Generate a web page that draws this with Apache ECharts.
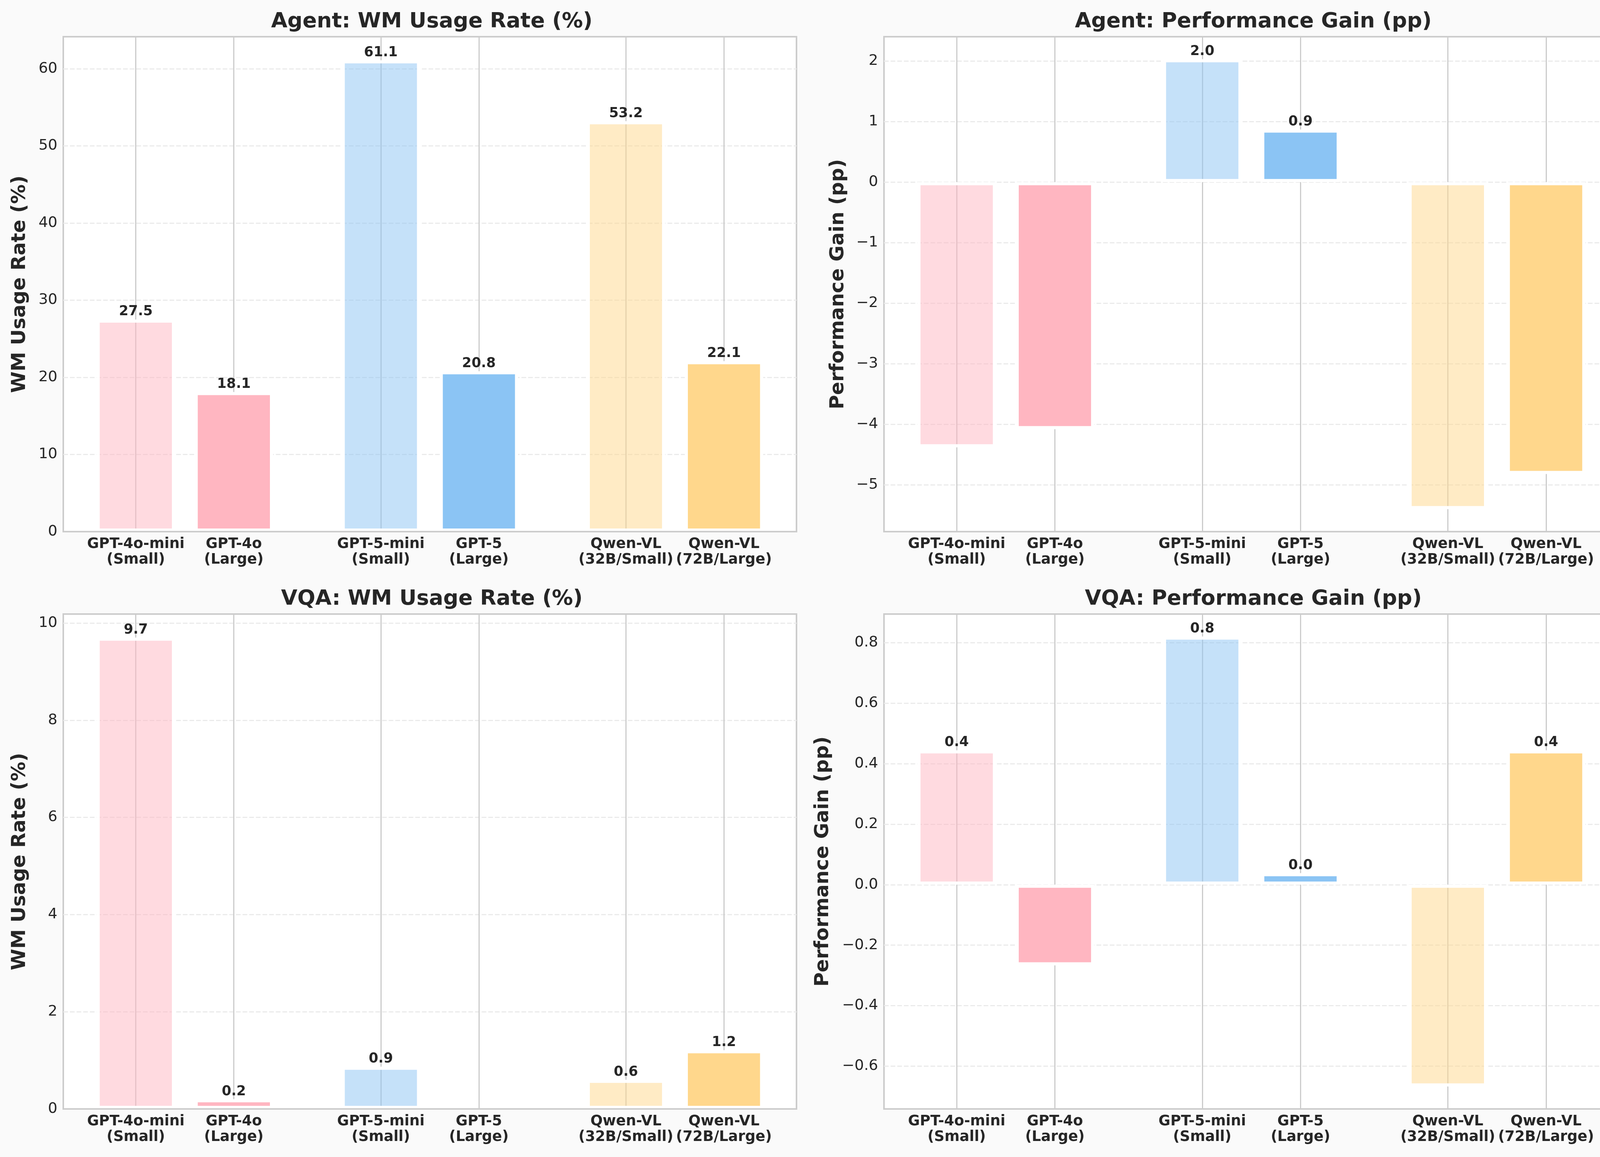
<!DOCTYPE html>
<html>
<head>
<meta charset="utf-8">
<script src="https://cdn.jsdelivr.net/npm/echarts@6/dist/echarts.min.js"></script>
<style>
html,body{margin:0;padding:0;background:#fafafa;overflow:hidden;}
#chart{width:4172px;height:2962px;}
</style>
</head>
<body>
<div id="chart"></div>
<script>
// ---------------- DATA ----------------
const models = ['GPT-4o-mini\n(Small)', 'GPT-4o\n(Large)', 'GPT-5-mini\n(Small)', 'GPT-5\n(Large)', 'Qwen-VL\n(32B/Small)', 'Qwen-VL\n(72B/Large)'];
const agentUsage = [27.5, 18.1, 61.1, 20.8, 53.2, 22.1];
const agentGain  = [-4.38, -4.08, 2.03, 0.87, -5.40, -4.82];
const vqaUsage   = [9.7, 0.2, 0.87, 0.0, 0.6, 1.21];
const vqaGain    = [0.444, -0.267, 0.82, 0.038, -0.667, 0.444];

const titles = ['Agent: WM Usage Rate (%)', 'Agent: Performance Gain (pp)', 'VQA: WM Usage Rate (%)', 'VQA: Performance Gain (pp)'];
const yNames = ['WM Usage Rate (%)', 'Performance Gain (pp)', 'WM Usage Rate (%)', 'Performance Gain (pp)'];

const agentUsageTicks = [0, 10, 20, 30, 40, 50, 60];
const agentGainTicks  = [-5, -4, -3, -2, -1, 0, 1, 2];
const vqaUsageTicks   = [0, 2, 4, 6, 8, 10];
const vqaGainTicks    = [-0.6, -0.4, -0.2, 0.0, 0.2, 0.4, 0.6, 0.8];

// ---------------- STYLE / LAYOUT ----------------
const FONT = 'DejaVu Sans';
const TEXT = '#262626';
const baseRGB = [[255,182,193], [255,182,193], [139,196,244], [139,196,244], [255,215,140], [255,215,140]];
const alphas  = [0.5, 1, 0.5, 1, 0.5, 1];
const GROUP_STEP = 2.5;
const BAR_W = 0.8;
const xPos = models.map((m, i) => Math.floor(i / 2) * GROUP_STEP + (i % 2));
const X_MIN = -0.74, X_MAX = 6.74;

const grids = [
  {left: 162,  top: 94,   width: 1877, height: 1267},
  {left: 2263, top: 94,   width: 1881, height: 1267},
  {left: 162,  top: 1572, width: 1877, height: 1267},
  {left: 2263, top: 1572, width: 1881, height: 1267}
];
const titleTops = [24, 24, 1502, 1502];
const nameGaps = [86, 92, 86, 131];
const tickDecimals = [0, 0, 0, 1];

const panels = [
  {vals: agentUsage, ticks: agentUsageTicks},
  {vals: agentGain,  ticks: agentGainTicks},
  {vals: vqaUsage,   ticks: vqaUsageTicks},
  {vals: vqaGain,    ticks: vqaGainTicks}
];

function limits(vals) {
  const lo = Math.min(0, ...vals), hi = Math.max(0, ...vals);
  const span = hi - lo, m = 0.05 * span;
  return [lo < 0 ? lo - m : 0, hi + m];
}
function fmtTick(v, d) {
  return Number(v).toFixed(d).replace('-', '\u2212');
}
function rgba(c, a) { return 'rgba(' + c[0] + ',' + c[1] + ',' + c[2] + ',' + a + ')'; }

const option = {
  backgroundColor: '#fafafa',
  animation: false,
  title: [], grid: [], xAxis: [], yAxis: [], series: []
};

panels.forEach((p, k) => {
  const g = grids[k];
  const [yMin, yMax] = limits(p.vals);
  option.grid.push({
    left: g.left, top: g.top, width: g.width, height: g.height,
    containLabel: false, outerBoundsMode: 'none',
    show: true, backgroundColor: '#ffffff', borderColor: '#cccccc', borderWidth: 4
  });
  option.title.push({
    text: titles[k], left: g.left + g.width / 2, top: titleTops[k], textAlign: 'center',
    textStyle: {fontFamily: FONT, fontSize: 54, fontWeight: 'bold', color: TEXT}
  });
  // main x axis: vertical grid lines (below bars)
  option.xAxis.push({
    gridIndex: k, type: 'value', min: X_MIN, max: X_MAX, position: 'top', z: 0,
    axisLine: {show: false}, axisLabel: {show: false},
    axisTick: {show: false, customValues: xPos},
    splitLine: {show: true, showMinLine: true, showMaxLine: true, lineStyle: {color: '#cccccc', width: 3}}
  });
  // overlay bottom axis: spine + labels (above bars)
  option.xAxis.push({
    gridIndex: k, type: 'value', min: X_MIN, max: X_MAX, position: 'bottom', z: 10,
    axisLine: {show: true, onZero: false, lineStyle: {color: '#cccccc', width: 4}},
    axisTick: {show: false, customValues: xPos},
    splitLine: {show: false},
    axisLabel: {
      show: true, customValues: xPos, margin: 12,
      formatter: v => { const i = xPos.findIndex(x => Math.abs(x - v) < 1e-6); return i >= 0 ? models[i] : ''; },
      fontFamily: FONT, fontSize: 37, fontWeight: 'bold', color: TEXT, lineHeight: 40, align: 'center'
    }
  });
  option.yAxis.push({
    gridIndex: k, type: 'value', min: yMin, max: yMax,
    axisLine: {show: false},
    axisTick: {show: false, customValues: p.ticks},
    axisLabel: {
      show: true, customValues: p.ticks, margin: 15,
      formatter: v => fmtTick(v, tickDecimals[k]),
      fontFamily: FONT, fontSize: 38, color: TEXT
    },
    splitLine: {show: true, showMinLine: true, showMaxLine: true, lineStyle: {color: '#ebebeb', width: 3, type: [12, 5]}},
    name: yNames[k], nameLocation: 'middle', nameGap: nameGaps[k], nameRotate: 90,
    nameTextStyle: {fontFamily: FONT, fontSize: 50, fontWeight: 'bold', color: TEXT}
  });
  const pxPerUnit = g.width / (X_MAX - X_MIN);
  option.series.push({
    type: 'bar', xAxisIndex: 2 * k, yAxisIndex: k, z: 2,
    barWidth: BAR_W * pxPerUnit,
    data: p.vals.map((v, i) => ({
      value: [xPos[i], v],
      itemStyle: {color: rgba(baseRGB[i], alphas[i]), borderColor: '#ffffff', borderWidth: v === 0 ? 0 : 8}
    })),
    label: {
      show: true, position: 'top', distance: 2,
      formatter: prm => { const v = prm.value[1]; return v > 0 ? v.toFixed(1) : ''; },
      fontFamily: FONT, fontSize: 35, fontWeight: 'bold', color: TEXT
    }
  });
});

const chart = echarts.init(document.getElementById('chart'), null, {renderer: 'canvas'});
chart.setOption(option);
</script>
</body>
</html>
